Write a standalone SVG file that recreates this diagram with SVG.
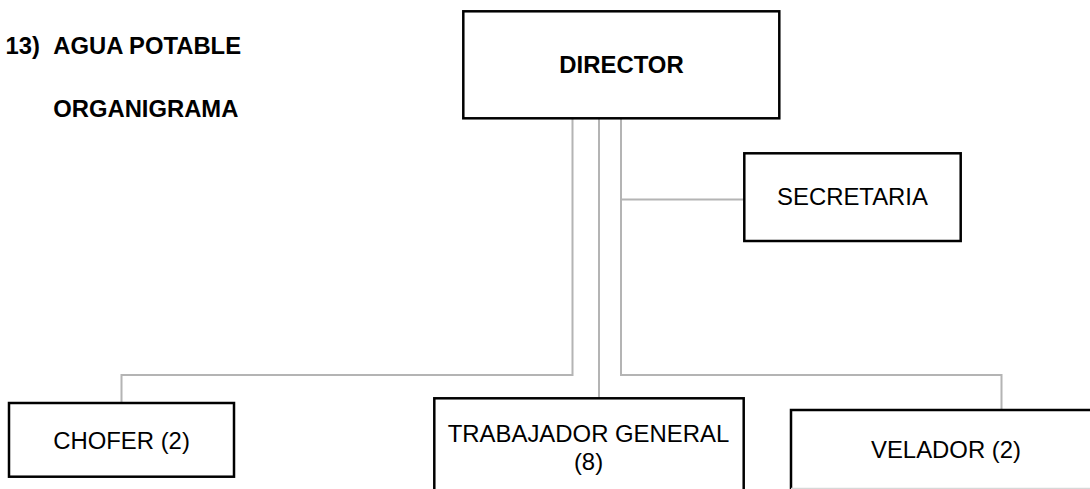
<svg xmlns="http://www.w3.org/2000/svg" width="1090" height="489" viewBox="0 0 1090 489">
  <style>
    .box { fill: #ffffff; stroke: #000000; stroke-width: 2.5; }
    .link { fill: none; stroke: #b4b4b4; stroke-width: 2; }
    .title { font-family: "Liberation Sans", Arial, sans-serif; font-weight: bold; font-size: 23.8px; fill: #000000; }
    .label { font-family: "Liberation Sans", Arial, sans-serif; font-size: 23.9px; fill: #000000; text-anchor: middle; }
  </style>
  <rect width="1090" height="489" fill="#ffffff"/>

  <!-- heading -->
  <g id="heading">
    <text class="title" x="5.5" y="54">13)</text>
    <text class="title" x="53.3" y="54">AGUA POTABLE</text>
    <text class="title" x="53.3" y="117">ORGANIGRAMA</text>
  </g>

  <!-- connectors -->
  <g id="connectors">
    <path class="link" d="M572.5,119 V375 H121.5 V403"/>
    <path class="link" d="M599,119 V398"/>
    <path class="link" d="M621,119 V375 H1001.5 V410"/>
    <path class="link" d="M621,199.5 H744"/>
  </g>

  <!-- nodes -->
  <g id="director">
    <rect class="box" x="463.3" y="11.3" width="316" height="107"/>
    <text class="label" x="621.5" y="73.3" font-weight="bold" font-size="23.6">DIRECTOR</text>
  </g>

  <g id="secretaria">
    <rect class="box" x="744.3" y="153.3" width="216.4" height="87.7"/>
    <text class="label" x="852.5" y="205">SECRETARIA</text>
  </g>

  <g id="chofer">
    <rect class="box" x="9" y="403" width="225" height="73.7"/>
    <text class="label" x="121.5" y="449">CHOFER (2)</text>
  </g>

  <g id="trabajador">
    <rect class="box" x="434.3" y="398.3" width="309.4" height="110"/>
    <text class="label" x="588.5" y="442">TRABAJADOR GENERAL</text>
    <text class="label" x="588.5" y="470">(8)</text>
  </g>

  <g id="velador">
    <rect class="box" x="791" y="410" width="320" height="100"/>
    <line x1="791" y1="488.3" x2="1090" y2="488.3" stroke="#d8d8d8" stroke-width="1.2"/>
    <text class="label" x="946" y="458">VELADOR (2)</text>
  </g>
</svg>
